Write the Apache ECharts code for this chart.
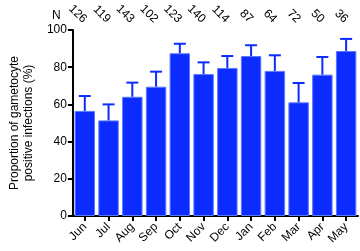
<!DOCTYPE html>
<html><head><meta charset="utf-8">
<script src="https://cdn.jsdelivr.net/npm/echarts@6/dist/echarts.min.js"></script>
<style>html,body{margin:0;padding:0;background:#fff}#c{width:360px;height:251px}</style>
</head><body><div id="c"></div>
<script>
const months = ['Jun','Jul','Aug','Sep','Oct','Nov','Dec','Jan','Feb','Mar','Apr','May'];
const values = [56.5, 51.4, 64.1, 69.5, 87.5, 76.3, 79.6, 86.0, 78.0, 61.1, 76.0, 88.7];
const upper = [64.5, 60.0, 71.7, 77.6, 92.6, 82.6, 86.0, 91.8, 86.4, 71.5, 85.5, 95.2];
const counts = ['126','119','143','102','123','140','114','87','64','72','50','36'];
const yTicks = [0, 20, 40, 60, 80, 100];

const chart = echarts.init(document.getElementById('c'));
const font = 'Liberation Sans, Arial, sans-serif';
chart.setOption({
  animation: false,
  grid: {left: 67, right: 2, top: 30, bottom: 35},
  xAxis: [{
    type: 'category', data: months,
    axisLine: {lineStyle: {color: '#000', width: 2}},
    axisTick: {show: true, alignWithLabel: true, length: 5, lineStyle: {color: '#000', width: 2}},
    axisLabel: {rotate: 45, color: '#000', fontFamily: font, fontSize: 12, margin: 9}
  }, {
    type: 'category', data: counts, position: 'top',
    axisLine: {show: false}, axisTick: {show: false},
    axisLabel: {rotate: 45, color: '#000', fontFamily: font, fontSize: 12, margin: 9}
  }],
  yAxis: {
    type: 'value', min: 0, max: 100, interval: 20,
    axisLine: {show: true, lineStyle: {color: '#000', width: 2}},
    axisTick: {show: true, length: 5, lineStyle: {color: '#000', width: 2}},
    splitLine: {show: false},
    axisLabel: {color: '#000', fontFamily: font, fontSize: 12, margin: 6,
      formatter: v => yTicks.includes(v) ? String(v) : ''},
    name: 'Proportion of gametocyte\npositive infections (%)',
    nameLocation: 'middle', nameGap: 33,
    nameTextStyle: {color: '#000', fontFamily: font, fontSize: 12, lineHeight: 14}
  },
  graphic: [{type: 'text', left: 52, top: 10, style: {text: 'N', font: '12px ' + font, fill: '#000'}}],
  series: [{
    type: 'bar', data: values, barCategoryGap: '14%',
    itemStyle: {color: '#0b2bff', borderColor: '#5a78ff', borderWidth: 1}
  }, {
    type: 'custom',
    data: months.map((m, i) => [i, values[i], upper[i]]),
    renderItem: (params, api) => {
      const base = api.coord([api.value(0), api.value(1)]);
      const top = api.coord([api.value(0), api.value(2)]);
      const hw = 6;
      const style = {stroke: '#0b2bff', lineWidth: 2};
      return {type: 'group', children: [
        {type: 'line', shape: {x1: base[0], y1: base[1], x2: top[0], y2: top[1]}, style},
        {type: 'line', shape: {x1: top[0] - hw, y1: top[1], x2: top[0] + hw, y2: top[1]}, style}
      ]};
    },
    z: 3
  }]
});
</script></body></html>
